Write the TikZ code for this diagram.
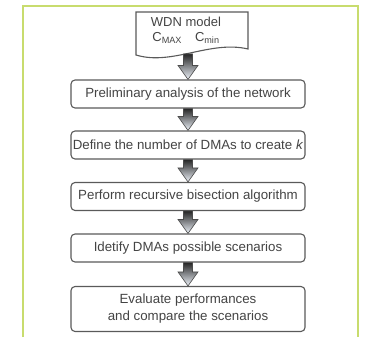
\documentclass[tikz,border=0pt]{standalone}
\usepackage{fontspec}
\setmainfont{Liberation Sans}
\usetikzlibrary{calc}
\definecolor{framegreen}{HTML}{C8DC6E}
\definecolor{txt}{HTML}{444444}
\definecolor{boxline}{HTML}{5A5A5A}
\definecolor{arrowmid}{HTML}{B8C8DC}
\definecolor{arrowbot}{HTML}{EEF3FA}
\tikzset{
  stepbox/.style={draw=boxline, line width=1.1pt, rounded corners=4pt, fill=white,
    minimum width=234pt, minimum height=28pt, inner sep=0pt, align=center,
    text=txt, font=\fontsize{13.3}{17}\selectfont},
  docshape/.style={draw=boxline, line width=1.1pt, fill=white},
  doctext/.style={text=txt, align=center, inner sep=0pt, font=\fontsize{13}{15}\selectfont},
  blockarrow/.style={draw=black!70, line width=0.6pt, top color=black!85,
    middle color=arrowmid, bottom color=arrowbot},
  framestyle/.style={draw=framegreen, line width=1.5pt}
}
\newcommand\flowarrow[2]{%
  \path[blockarrow] let \p1=(#1), \p2=(#2.north) in
    (\x2-4.5pt,\y1) -- (\x2+4.5pt,\y1) -- (\x2+4.5pt,\y2+14pt) -- (\x2+10pt,\y2+14pt)
    -- (\x2,\y2) -- (\x2-10pt,\y2+14pt) -- (\x2-4.5pt,\y2+14pt) -- cycle;}
\begin{document}
\begin{tikzpicture}[x=1pt,y=-1pt]
  \useasboundingbox (0,0) rectangle (369,337);
  \fill[white] (0,0) rectangle (369,337);
  % frame
  \draw[framestyle] (23,337) -- (23,6) -- (358,6) -- (358,337);
  % document shape
  \draw[docshape] (136,12) -- (248,12) -- (248,49)
    .. controls (210,40) and (172,66) .. (136,55) -- cycle;
  \node[doctext] (wdn) at (186,30.5) {WDN model\\C\textsubscript{MAX}\quad C\textsubscript{min}};
  \coordinate (docbot) at (188,54);
  % steps
  \node[stepbox] (b1) at (188,94) {Preliminary analysis of the network};
  \node[stepbox] (b2) at (188,145) {Define the number of DMAs to create \textit{k}};
  \node[stepbox] (b3) at (188,196.5) {Perform recursive bisection algorithm};
  \node[stepbox] (b4) at (188,248) {Idetify DMAs possible scenarios};
  \node[stepbox, minimum height=45pt] (b5) at (188,309) {Evaluate performances\\and compare the scenarios};
  % arrows
  \flowarrow{docbot}{b1}
  \flowarrow{b1.south}{b2}
  \flowarrow{b2.south}{b3}
  \flowarrow{b3.south}{b4}
  \flowarrow{b4.south}{b5}
\end{tikzpicture}
\end{document}
